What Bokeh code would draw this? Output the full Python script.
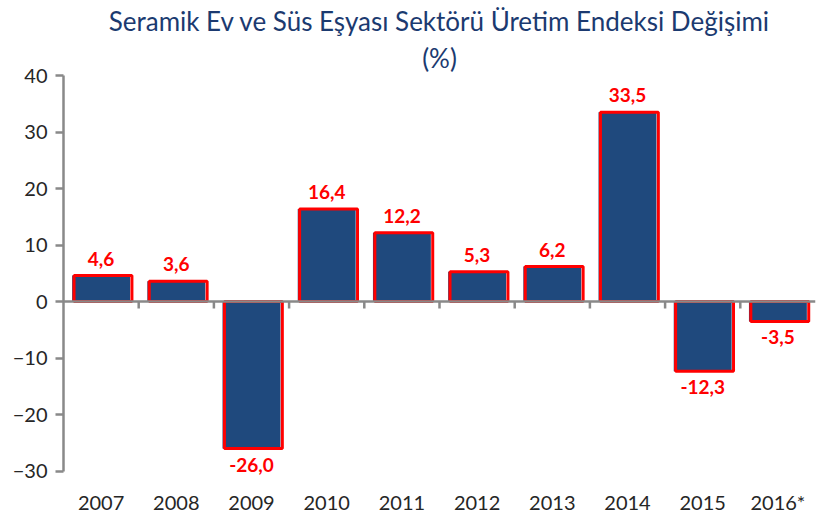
from bokeh.plotting import figure
from bokeh.models import ColumnDataSource, Span, FixedTicker, Range1d, LabelSet, Title
from bokeh.core.properties import value
from bokeh.embed import file_html
from bokeh.resources import INLINE
from bokeh.transform import dodge

years = ["2007", "2008", "2009", "2010", "2011", "2012", "2013", "2014", "2015", "2016*"]
values = [4.6, 3.6, -26.0, 16.4, 12.2, 5.3, 6.2, 33.5, -12.3, -3.5]
y_ticks = [-30, -20, -10, 0, 10, 20, 30, 40]
title_line1 = "Seramik Ev ve Süs Eşyası Sektörü Üretim Endeksi Değişimi"
title_line2 = "(%)"

NAVY = "#1F497D"
RED = "#FF0000"
GREY = "#898989"
TEXT = "#262626"
TITLE_C = "#1B3A70"

n = len(years)
xs = [i + 0.5 for i in range(n)]
labels = [f"{v:.1f}".replace(".", ",") for v in values]
src = ColumnDataSource(dict(x=xs, top=values))
pos_src = ColumnDataSource(dict(x=[x for x, v in zip(xs, values) if v >= 0],
                                y=[v for v in values if v >= 0],
                                t=[l for l, v in zip(labels, values) if v >= 0]))
neg_src = ColumnDataSource(dict(x=[x for x, v in zip(xs, values) if v < 0],
                                y=[v for v in values if v < 0],
                                t=[l for l, v in zip(labels, values) if v < 0]))

# frame extends 2 units below -30 so the lowest value label is not clipped
p = figure(width=818, height=516, output_backend="svg", toolbar_location=None,
           x_range=Range1d(0, n), y_range=Range1d(-32, 40),
           min_border_left=63, min_border_right=3, min_border_top=75, min_border_bottom=33)
p.outline_line_color = None
p.grid.visible = False

# titles (first added sits nearest the frame)
p.add_layout(Title(text=title_line2, align="center", offset=26, text_font="Lato",
                   text_font_size="26px", text_font_style="normal", text_color=TITLE_C,
                   standoff=4), "above")
p.add_layout(Title(text=title_line1, align="center", offset=26, text_font="Lato",
                   text_font_size="26px", text_font_style="normal", text_color=TITLE_C,
                   standoff=2), "above")

# bars
p.vbar(x="x", top="top", bottom=0, width=0.77, source=src, fill_color=NAVY, line_color=None)
p.vbar(x=dodge("x", 0.025, range=p.x_range), top="top", bottom=0, width=0.77, source=src,
       fill_color=None, line_color=RED, line_width=3)

# zero line
p.add_layout(Span(location=0, dimension="width", line_color=GREY, line_width=2.5))
# category boundary ticks (~7px long)
tick_len = 72 / 408 * 7
bx = list(range(1, n))
p.segment(x0=bx, y0=[0] * len(bx), x1=bx, y1=[-tick_len] * len(bx), line_color=GREY, line_width=2.5)

# value labels
common = dict(text_color=RED, text_font_size="19px", text_font_style="bold",
              text_font=value("Lato"), text_align="center")
p.add_layout(LabelSet(x="x", y="y", text="t", source=pos_src, y_offset=10,
                      text_baseline="bottom", **common))
p.add_layout(LabelSet(x="x", y="y", text="t", source=neg_src, y_offset=-9,
                      text_baseline="top", **common))

# axes
ya = p.yaxis[0]
ya.ticker = FixedTicker(ticks=y_ticks)
ya.bounds = (-30, 40)
ya.axis_line_color = GREY
ya.axis_line_width = 2.5
ya.major_tick_line_color = GREY
ya.major_tick_line_width = 2.5
ya.major_tick_out = 8
ya.major_tick_in = 0
ya.minor_tick_line_color = None
ya.major_label_text_font = "Lato"
ya.major_label_text_font_size = "20px"
ya.major_label_text_color = TEXT
ya.major_label_standoff = 8

xa = p.xaxis[0]
xa.ticker = FixedTicker(ticks=xs)
xa.major_label_overrides = {x: y for x, y in zip(xs, years)}
xa.axis_line_color = None
xa.major_tick_line_color = None
xa.minor_tick_line_color = None
xa.major_label_text_font = "Lato"
xa.major_label_text_font_size = "20px"
xa.major_label_text_color = TEXT
xa.major_label_standoff = 1

open("out.html", "w").write(file_html(p, INLINE))
